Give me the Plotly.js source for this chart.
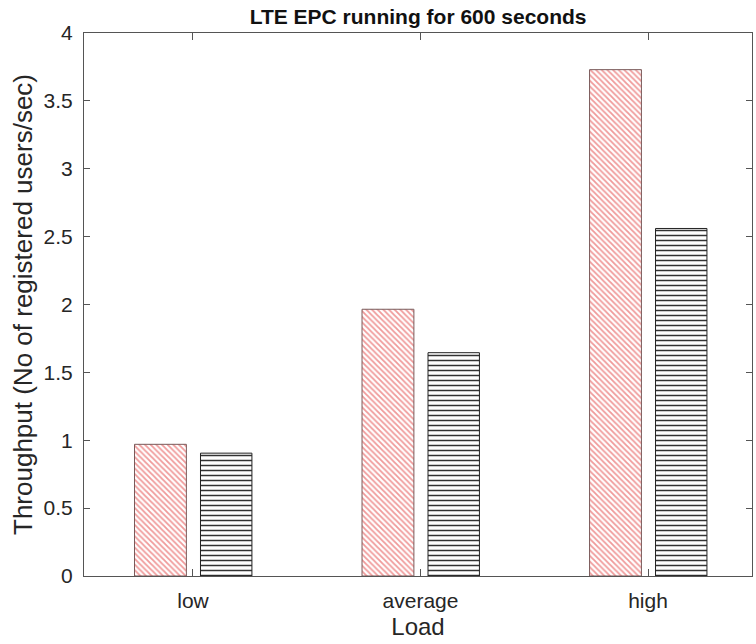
<!DOCTYPE html>
<html>
<head>
<meta charset="utf-8">
<script src="https://cdn.plot.ly/plotly-3.0.1.min.js"></script>
<style>html,body{margin:0;padding:0;background:#fff;}#chart{width:756px;height:644px;}</style>
</head>
<body>
<div id="chart"></div>
<script>
const categories = ['low', 'average', 'high'];
const categoryPositions = [1, 2, 3];
const seriesA = [0.97, 1.965, 3.73];
const seriesB = [0.905, 1.645, 2.56];
const yTickVals = [0, 0.5, 1, 1.5, 2, 2.5, 3, 3.5, 4];
const yTickText = ['0', '0.5', '1', '1.5', '2', '2.5', '3', '3.5', '4'];

const font = 'Liberation Sans, Arial, Helvetica, sans-serif';
const axisColor = '#555';

const traces = [
  {
    type: 'bar', x: categoryPositions, y: seriesA, name: 'A',
    width: 0.228, offset: -0.257,
    marker: {
      color: '#ffffff',
      line: {color: '#7a5a5a', width: 1},
      pattern: {shape: '\\', fgcolor: '#f09a9a', bgcolor: '#ffffff', size: 4, solidity: 0.45}
    },
    hoverinfo: 'skip'
  },
  {
    type: 'bar', x: categoryPositions, y: seriesB, name: 'B',
    width: 0.226, offset: 0.033,
    marker: {
      color: '#ffffff',
      line: {color: '#222', width: 1},
      pattern: {shape: '-', fgcolor: '#333', bgcolor: '#ffffff', size: 5, solidity: 0.3}
    },
    hoverinfo: 'skip'
  }
];

const layout = {
  width: 756, height: 644,
  margin: {l: 84, r: 4, t: 33, b: 68},
  paper_bgcolor: '#fff', plot_bgcolor: '#fff',
  showlegend: false,
  barmode: 'overlay',
  font: {family: font, color: '#262626'},
  title: {
    text: '<b>LTE EPC running for 600 seconds</b>',
    font: {family: font, size: 21, color: '#111'},
    x: 0.553, xanchor: 'center', y: 0.962, yanchor: 'bottom'
  },
  xaxis: {
    range: [0.521, 3.457],
    tickvals: categoryPositions, ticktext: categories,
    ticks: 'inside', ticklen: 7, tickcolor: axisColor, tickwidth: 1,
    showline: true, linecolor: axisColor, linewidth: 1, mirror: 'ticks',
    showgrid: false, zeroline: false, automargin: false,
    ticklabelstandoff: 6,
    tickfont: {family: font, size: 21, color: '#262626'},
    title: {text: 'Load', font: {family: font, size: 24, color: '#262626'}, standoff: 6}
  },
  yaxis: {
    range: [0, 4],
    tickvals: yTickVals, ticktext: yTickText,
    ticks: 'inside', ticklen: 6, tickcolor: axisColor, tickwidth: 1,
    showline: true, linecolor: axisColor, linewidth: 1, mirror: 'ticks',
    showgrid: false, zeroline: false, automargin: false,
    ticklabelstandoff: 6,
    tickfont: {family: font, size: 21, color: '#262626'},
    title: {text: 'Throughput (No of registered users/sec)', font: {family: font, size: 26, color: '#262626'}, standoff: 3}
  }
};

Plotly.newPlot('chart', traces, layout, {staticPlot: true, displayModeBar: false});
</script>
</body>
</html>
